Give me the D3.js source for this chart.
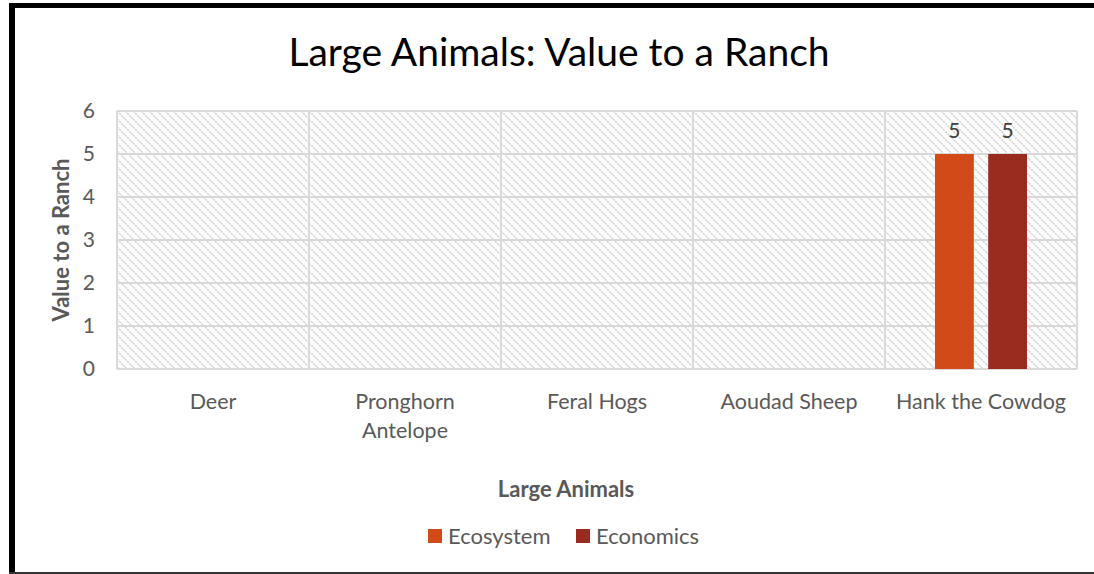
<!DOCTYPE html>
<html>
<head>
<meta charset="utf-8">
<script src="https://cdn.jsdelivr.net/npm/d3@7"></script>
<style>
  body { margin: 0; background: #fff; }
  text { font-family: Lato, "Open Sans", sans-serif; }
</style>
</head>
<body>
<div class="chart"></div>
<script>
var svgWidth = 1094;
var svgHeight = 574;

// chart data
var categories = ["Deer", "Pronghorn Antelope", "Feral Hogs", "Aoudad Sheep", "Hank the Cowdog"];
var series = ["Ecosystem", "Economics"];
var ecosystemValues = [null, null, null, null, 5];
var economicsValues = [null, null, null, null, 5];
var yTicks = [0, 1, 2, 3, 4, 5, 6];
var colors = ["#D24A17", "#9A2B1F"];

var margin = { top: 111, right: 17, bottom: 205, left: 117 };
var width = svgWidth - margin.left - margin.right;
var height = svgHeight - margin.top - margin.bottom;

var svg = d3.select(".chart")
  .append("svg")
  .attr("width", svgWidth)
  .attr("height", svgHeight);

// hatch pattern for the plot area
var defs = svg.append("defs");
var pat = defs.append("pattern")
  .attr("id", "hatch")
  .attr("patternUnits", "userSpaceOnUse")
  .attr("width", 8)
  .attr("height", 8);
pat.append("path")
  .attr("d", "M0,0 L8,8 M-4,4 L4,12 M4,-4 L12,4")
  .attr("stroke", "#cfcfcf")
  .attr("stroke-width", 1.4)
  .attr("stroke-dasharray", "2.2,0.9");

// frame around the picture
svg.append("rect").attr("x", 9).attr("y", 3).attr("width", svgWidth - 9).attr("height", 5).attr("fill", "#000");
svg.append("rect").attr("x", 9).attr("y", 3).attr("width", 6).attr("height", svgHeight - 3).attr("fill", "#000");
svg.append("rect").attr("x", 9).attr("y", 572).attr("width", svgWidth - 9).attr("height", 2).attr("fill", "#333");

var chartGroup = svg.append("g")
  .attr("transform", `translate(${margin.left}, ${margin.top})`);

var x0 = d3.scaleBand()
  .domain(categories)
  .range([0, width]);

var x1 = d3.scaleBand()
  .domain(series)
  .range([50, 142])
  .paddingInner(0.27);

var y = d3.scaleLinear()
  .domain([0, 6])
  .range([height, 0]);

chartGroup.append("rect")
  .attr("width", width)
  .attr("height", height)
  .attr("fill", "url(#hatch)");

// horizontal gridlines
chartGroup.append("g")
  .selectAll("line")
  .data(yTicks)
  .enter()
  .append("line")
  .attr("x1", 0)
  .attr("x2", width)
  .attr("y1", d => y(d))
  .attr("y2", d => y(d))
  .attr("stroke", "#d9d9d9")
  .attr("stroke-width", 2);

// vertical lines at category edges
var edges = categories.map(c => x0(c)).concat([width]);
chartGroup.append("g")
  .selectAll("line")
  .data(edges)
  .enter()
  .append("line")
  .attr("x1", d => d)
  .attr("x2", d => d)
  .attr("y1", 0)
  .attr("y2", height)
  .attr("stroke", "#d9d9d9")
  .attr("stroke-width", 2);

// y axis tick labels
var leftAxis = d3.axisLeft(y).tickValues(yTicks).tickFormat(d3.format("d")).tickSize(0).tickPadding(22);
var yAxisG = chartGroup.append("g").call(leftAxis);
yAxisG.select(".domain").remove();
yAxisG.selectAll("text")
  .attr("fill", "#595959")
  .style("font-size", "21px")
  .style("font-family", "Lato, 'Open Sans', sans-serif");

// category labels
var bottomAxis = d3.axisBottom(x0).tickSize(0).tickPadding(0);
var xAxisG = chartGroup.append("g")
  .attr("transform", `translate(0, ${height})`)
  .call(bottomAxis);
xAxisG.select(".domain").remove();
xAxisG.selectAll("text").remove();
xAxisG.selectAll(".tick").each(function(d) {
  var words = d === "Pronghorn Antelope" ? ["Pronghorn", "Antelope"] : [d];
  var t = d3.select(this).append("text")
    .attr("fill", "#595959")
    .attr("text-anchor", "middle")
    .style("font-size", "21.5px");
  words.forEach(function(w, i) {
    t.append("tspan").attr("x", 0).attr("y", 40 + i * 29).text(w);
  });
});

// bars
var rows = categories.map((c, i) => ({ cat: c, values: [ecosystemValues[i], economicsValues[i]] }));
var groups = chartGroup.selectAll(".grp")
  .data(rows)
  .enter()
  .append("g")
  .attr("transform", d => `translate(${x0(d.cat)}, 0)`);

var barData = d => series.map((s, j) => ({ s: s, v: d.values[j], j: j })).filter(e => e.v !== null);

groups.selectAll("rect")
  .data(barData)
  .enter()
  .append("rect")
  .attr("x", d => x1(d.s))
  .attr("width", x1.bandwidth())
  .attr("y", d => y(d.v))
  .attr("height", d => height - y(d.v))
  .attr("fill", d => colors[d.j]);

groups.selectAll(".lbl")
  .data(barData)
  .enter()
  .append("text")
  .attr("x", d => x1(d.s) + x1.bandwidth() / 2)
  .attr("y", d => y(d.v) - 16)
  .attr("text-anchor", "middle")
  .attr("fill", "#404040")
  .style("font-size", "21px")
  .text(d => d.v);

// title
svg.append("text")
  .attr("x", 559)
  .attr("y", 66)
  .attr("text-anchor", "middle")
  .attr("fill", "#000")
  .style("font-size", "39px")
  .text("Large Animals: Value to a Ranch");

// axis titles
svg.append("text")
  .attr("transform", "translate(69, 240) rotate(-90)")
  .attr("text-anchor", "middle")
  .attr("fill", "#595959")
  .style("font-size", "22px")
  .style("font-weight", "bold")
  .text("Value to a Ranch");

svg.append("text")
  .attr("x", 566)
  .attr("y", 497)
  .attr("text-anchor", "middle")
  .attr("fill", "#595959")
  .style("font-size", "22px")
  .style("font-weight", "bold")
  .text("Large Animals");

// legend
var legendX = [428, 576];
var legend = svg.selectAll(".legend")
  .data(series)
  .enter()
  .append("g")
  .attr("transform", (d, i) => `translate(${legendX[i]}, 529)`);
legend.append("rect")
  .attr("width", 14)
  .attr("height", 14)
  .attr("fill", (d, i) => colors[i]);
legend.append("text")
  .attr("x", 20)
  .attr("y", 15)
  .attr("fill", "#595959")
  .style("font-size", "22px")
  .text(d => d);
</script>
</body>
</html>
